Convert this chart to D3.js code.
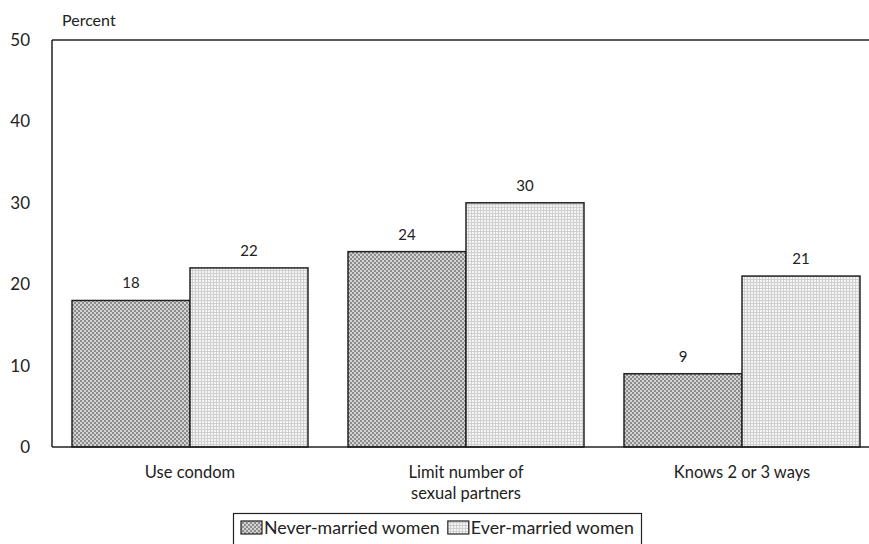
<!DOCTYPE html>
<html><head><meta charset="utf-8">
<script src="https://cdn.jsdelivr.net/npm/d3@7"></script>
<style>body{margin:0;background:#fff;} text{font-family:Lato, "Open Sans", sans-serif;}</style>
</head><body>
<svg id="c" width="869" height="544"></svg>
<script>
const categories = [["Use condom"], ["Limit number of", "sexual partners"], ["Knows 2 or 3 ways"]];
const seriesNames = ["Never-married women", "Ever-married women"];
const neverMarried = [18, 24, 9];
const everMarried = [22, 30, 21];
const yTicks = [0, 10, 20, 30, 40, 50];

(function(){
const svg = d3.select("#c");
const defs = svg.append("defs");
const p1 = defs.append("pattern").attr("id","pNever").attr("patternUnits","userSpaceOnUse").attr("width",4).attr("height",4);
p1.append("rect").attr("width",4).attr("height",4).attr("fill","#d4d4d4");
p1.append("rect").attr("width",2).attr("height",2).attr("fill","#8c8c8c");
p1.append("rect").attr("x",2).attr("y",2).attr("width",2).attr("height",2).attr("fill","#8c8c8c");
const p2 = defs.append("pattern").attr("id","pEver").attr("patternUnits","userSpaceOnUse").attr("width",3).attr("height",3);
p2.append("rect").attr("width",3).attr("height",3).attr("fill","#f4f4f4");
p2.append("rect").attr("width",3).attr("height",1).attr("fill","#d0d0d0");
p2.append("rect").attr("width",1).attr("height",3).attr("fill","#d0d0d0");
const fills = ["url(#pNever)", "url(#pEver)"];

const mLeft = 52, mTop = 40, mBottom = 447, mRight = 880;
const y = d3.scaleLinear().domain([0, 50]).range([mBottom, mTop]);
const x0 = d3.scaleBand().domain(d3.range(categories.length)).range([mLeft, mRight]).paddingInner(0.145).paddingOuter(0.0725);
const x1 = d3.scaleBand().domain([0, 1]).range([0, x0.bandwidth()]);

const data = categories.map((c, i) => ({i, vals: [neverMarried[i], everMarried[i]]}));

const g = svg.append("g");
data.forEach(d => {
  d.vals.forEach((v, s) => {
    g.append("rect")
      .attr("x", x0(d.i) + x1(s))
      .attr("y", y(v))
      .attr("width", x1.bandwidth())
      .attr("height", y(0) - y(v))
      .attr("fill", fills[s])
      .attr("stroke", "#222").attr("stroke-width", 1.5);
    g.append("text")
      .attr("x", x0(d.i) + x1(s) + x1.bandwidth()/2)
      .attr("y", y(v) - 12)
      .attr("text-anchor", "middle")
      .attr("font-size", 15).attr("fill", "#222")
      .text(v);
  });
});

svg.append("line").attr("x1", mLeft).attr("x2", 869).attr("y1", mTop).attr("y2", mTop).attr("stroke", "#222").attr("stroke-width", 1.5);
svg.append("line").attr("x1", mLeft).attr("x2", 869).attr("y1", mBottom).attr("y2", mBottom).attr("stroke", "#222").attr("stroke-width", 1.5);
svg.append("line").attr("x1", mLeft).attr("x2", mLeft).attr("y1", mTop).attr("y2", mBottom).attr("stroke", "#222").attr("stroke-width", 1.5);

const yAxis = svg.append("g").attr("transform", `translate(${mLeft},0)`)
  .call(d3.axisLeft(y).tickValues(yTicks).tickSize(0).tickPadding(22));
yAxis.select(".domain").remove();
yAxis.selectAll("text").attr("font-size", 17).attr("fill", "#222").attr("font-family", "Lato, sans-serif");

svg.append("text").attr("x", 62).attr("y", 26).attr("font-size", 16).attr("fill", "#222").text("Percent");

data.forEach(d => {
  const cx = x0(d.i) + x0.bandwidth()/2;
  const t = svg.append("text").attr("x", cx).attr("y", 478)
    .attr("text-anchor", "middle").attr("font-size", 16.5).attr("fill", "#222");
  categories[d.i].forEach((line, k) => {
    t.append("tspan").attr("x", cx).attr("dy", k === 0 ? 0 : 21).text(line);
  });
});

// legend laid out to fill its box
const lg = svg.append("g");
const boxL = 233, boxR = 641;
lg.append("rect").attr("x", boxL + 0.5).attr("y", 513.5).attr("width", boxR - boxL).attr("height", 40).attr("fill", "#fff").attr("stroke", "#222").attr("stroke-width", 1.2);
const texts = seriesNames.map(n => lg.append("text").attr("y", 534).attr("font-size", 10).attr("fill", "#222").text(n));
const w10 = texts.map(t => t.node().getComputedTextLength());
const sw = 21, gapSw = 2, gapEntry = 8, padL = 8, padR = 7;
const avail = boxR - boxL - padL - padR - 2 * (sw + gapSw) - gapEntry;
const fs = Math.min(18, 10 * avail / (w10[0] + w10[1]));
let xx = boxL + padL;
texts.forEach((t, s) => {
  lg.append("rect").attr("x", xx).attr("y", 521).attr("width", sw).attr("height", 13).attr("fill", fills[s]).attr("stroke", "#222").attr("stroke-width", 1.2);
  t.attr("font-size", fs).attr("x", xx + sw + gapSw);
  xx += sw + gapSw + w10[s] * fs / 10 + gapEntry;
});
})();
</script>
</body></html>
